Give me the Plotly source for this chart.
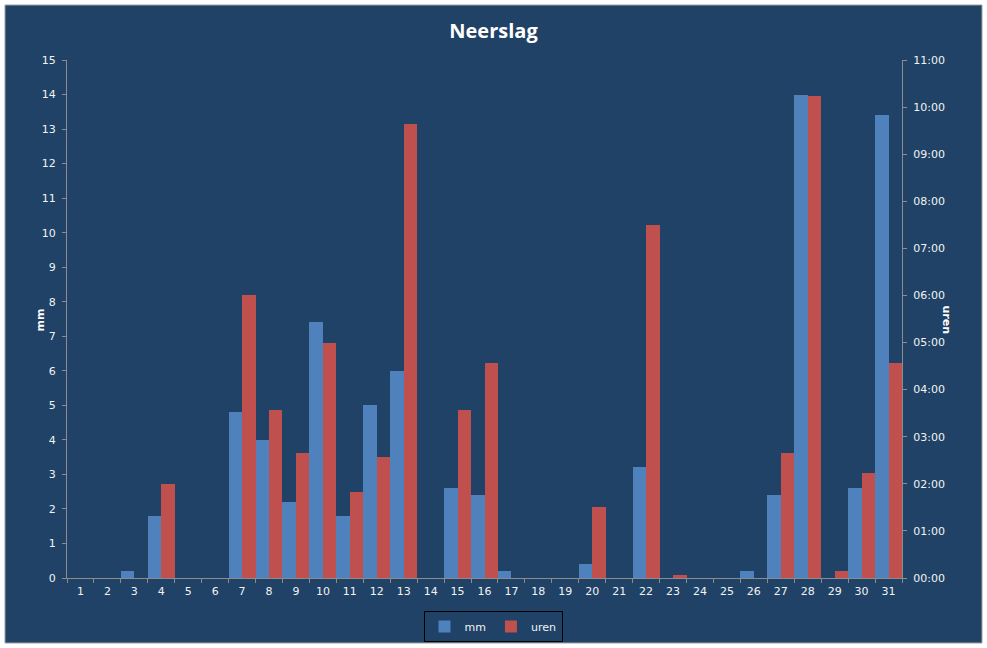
import plotly.graph_objects as go

# dagen van de maand
dagen = [str(d) for d in range(1, 32)]

# neerslag in mm per dag
mm = [0, 0, 0.2, 1.8, 0, 0, 4.8, 4.0, 2.2, 7.4, 1.8, 5.0, 6.0, 0, 2.6, 2.4,
      0.2, 0, 0, 0.4, 0, 3.2, 0, 0, 0, 0.2, 2.4, 14.0, 0, 2.6, 13.4]

# duur van de neerslag in uren (decimaal)
uren = [0, 0, 0, 2.0, 0, 0, 6.0, 3.57, 2.65, 5.0, 1.83, 2.57, 9.64, 0, 3.57, 4.57,
        0, 0, 0, 1.5, 0, 7.5, 0.07, 0, 0, 0, 2.65, 10.24, 0.15, 2.23, 4.57]

uur_ticks = list(range(0, 12))
uur_labels = ["%02d:00" % u for u in uur_ticks]

bg = "#1F4266"
txt = "#F2F2F2"
asgrijs = "#8C8C8C"
font_ticks = dict(family="DejaVu Sans", size=11, color=txt)

fig = go.Figure()
fig.add_trace(go.Bar(x=dagen, y=mm, name="mm", marker_color="#4F81BD",
                     marker_line_width=0, width=0.5, offset=-0.5, yaxis="y"))
fig.add_trace(go.Bar(x=dagen, y=uren, name="uren", marker_color="#C0504D",
                     marker_line_width=0, width=0.5, offset=0, yaxis="y2"))

W, H = 987, 648
L, R, T, B = 67, 85, 60, 70
pw, ph = W - L - R, H - T - B

# donkerblauwe achtergrond met grijze rand
fig.add_shape(type="rect", xref="paper", yref="paper", layer="below",
              x0=(5 - L) / pw, x1=(982 - L) / pw,
              y0=-(643 - (H - B)) / ph, y1=((H - B) - 5) / ph,
              fillcolor=bg, line=dict(color="#A0A0A0", width=1))

fig.update_layout(
    width=W, height=H,
    margin=dict(l=L, r=R, t=T, b=B, autoexpand=False),
    paper_bgcolor="white",
    plot_bgcolor=bg,
    title=dict(text="<b>Neerslag</b>", x=0.5, xanchor="center",
               y=1 - 31 / H, yref="container", yanchor="middle",
               font=dict(family="Open Sans", size=20, color="white")),
    barmode="overlay",
    bargap=0,
    showlegend=True,
    legend=dict(orientation="h", x=(493 - L) / pw, xanchor="center",
                y=-(611 - (H - B)) / ph, yanchor="top",
                bgcolor=bg, bordercolor="black", borderwidth=1,
                font=dict(family="DejaVu Sans", size=11, color=txt),
                itemwidth=30, tracegroupgap=0),
    xaxis=dict(type="category", range=[-0.5, 30.5], showgrid=False,
               showline=True, linecolor=asgrijs, ticks="outside",
               tickson="boundaries", ticklen=4, tickcolor=asgrijs,
               tickfont=font_ticks, zeroline=False, automargin=False,
               ticklabelstandoff=3),
    yaxis=dict(range=[0, 15], dtick=1, showgrid=False, showline=True,
               linecolor=asgrijs, ticks="outside", ticklen=4,
               tickcolor=asgrijs, tickfont=font_ticks, zeroline=False,
               automargin=False, ticklabelstandoff=4),
    yaxis2=dict(range=[0, 11], overlaying="y", side="right", showgrid=False,
                showline=True, linecolor=asgrijs, ticks="outside", ticklen=4,
                tickcolor=asgrijs, tickfont=font_ticks, zeroline=False,
                tickvals=uur_ticks, ticktext=uur_labels, automargin=False,
                ticklabelstandoff=4),
    annotations=[
        dict(text="<b>mm</b>", xref="paper", yref="paper",
             x=(31 - L) / pw, y=((H - B) - 320) / ph, showarrow=False,
             textangle=-90, font=dict(family="DejaVu Sans", size=11, color="white")),
        dict(text="<b>uren</b>", xref="paper", yref="paper",
             x=(955 - L) / pw, y=((H - B) - 320) / ph, showarrow=False,
             textangle=90, font=dict(family="DejaVu Sans", size=11, color="white")),
    ],
)

fig.write_html("out.html", config={"displayModeBar": False},
               post_script="document.body.style.margin='0';")
